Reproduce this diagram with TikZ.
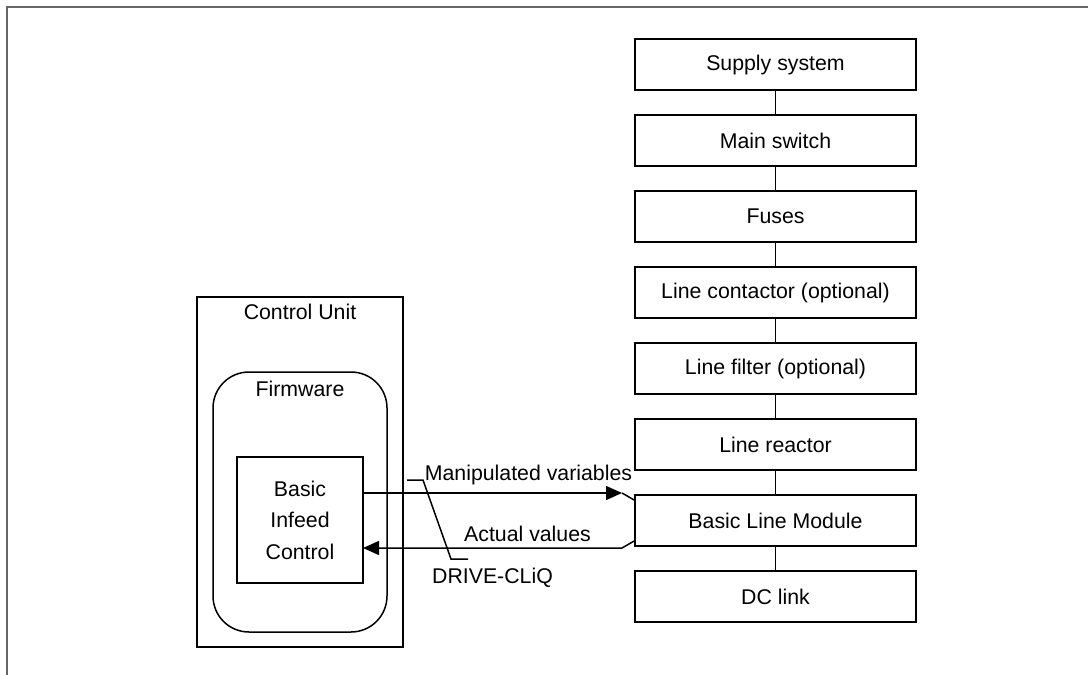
\documentclass[tikz,border=0pt]{standalone}
\usepackage{fontspec}
\setmainfont{Liberation Sans}
\usetikzlibrary{arrows.meta,positioning,calc}

\begin{document}
\begin{tikzpicture}[
    x=0.5pt, y=-0.5pt,
    line width=0.75pt,
    node distance=12.5pt,
    every node/.style={
        inner sep=0pt,
        outer sep=0pt,
        font=\fontsize{10.65}{15.75}\selectfont
    },
    block/.style={draw, rectangle, minimum width=140.5pt, minimum height=25.5pt},
    frame/.style={draw=black!60, line width=1pt},
    sig/.style={-{Triangle[length=8pt,width=7pt]}}
]

\useasboundingbox (0,0) rectangle (1088,675);
\draw[frame] (7,675) -- (7,6.5) -- (1088,6.5);

\node[block] (supply) at (775.5,64.5) {Supply system};
\node[block, below=of supply] (mainsw) {Main switch};
\node[block, below=of mainsw] (fuses) {Fuses};
\node[block, below=of fuses] (contactor) {Line contactor (optional)};
\node[block, below=of contactor] (filter) {Line filter (optional)};
\node[block, below=of filter] (reactor) {Line reactor};
\node[block, below=of reactor] (blm) {Basic Line Module};
\node[block, below=of blm] (dclink) {DC link};

\foreach \a/\b in {supply/mainsw, mainsw/fuses, fuses/contactor,
    contactor/filter, filter/reactor, reactor/blm, blm/dclink}
    \draw (\a) -- (\b);

\node[draw, minimum width=103pt, minimum height=175pt] (cu) at (300,472) {};
\node[anchor=base] (cutitle) at (300,319) {Control Unit};
\node[draw, rounded corners=18pt, minimum width=87pt, minimum height=130pt] (fw) at (300,502) {};
\node[anchor=base] (fwtitle) at (300,396) {Firmware};
\node[draw, minimum width=63pt, minimum height=63pt, align=center] (bic) at (300,520)
    {Basic\\Infeed\\Control};

\coordinate (mvtip) at (622,493);
\coordinate (avbend) at (622,548);
\draw[sig] (bic.east |- mvtip) -- (mvtip);
\draw (mvtip) -- ($(blm.west)+(0,10pt)$);
\draw[sig] ($(blm.west)+(0,-10pt)$) -- (avbend) -- (bic.east |- avbend);

\node[anchor=base] (manip) at (528.5,480) {Manipulated variables};
\node[anchor=base] (actual) at (527.5,541) {Actual values};
\node[anchor=base] (cliq) at (492.5,583) {DRIVE-CLiQ};

\coordinate (cliqend) at (407,480);
\draw (cliqend) -- ++(16,0) -- (451,559) -- (468,559);

\end{tikzpicture}
\end{document}
